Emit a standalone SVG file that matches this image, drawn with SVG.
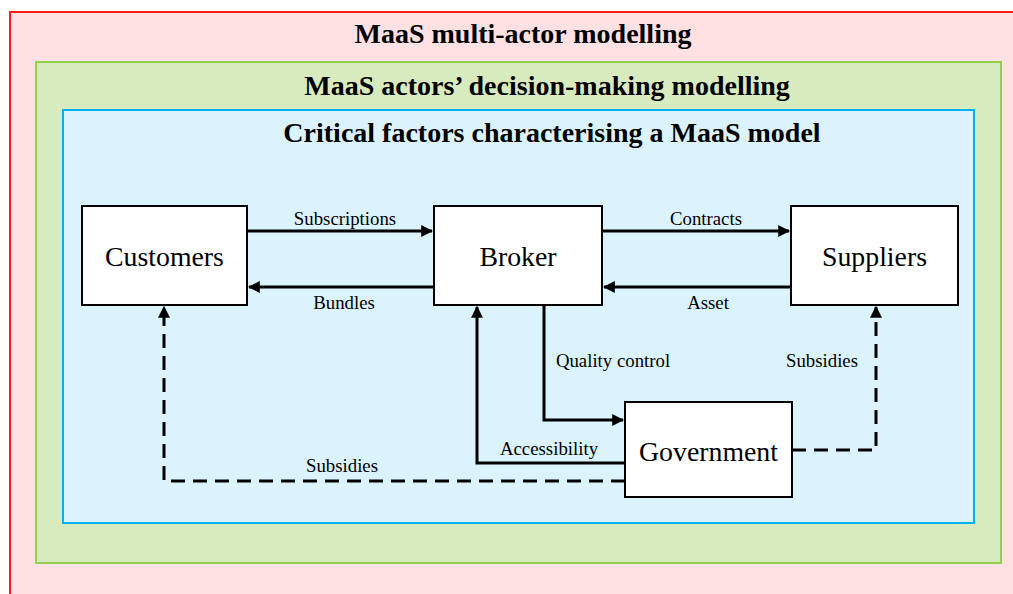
<svg xmlns="http://www.w3.org/2000/svg" width="1013" height="594" viewBox="0 0 1013 594">
<style>
text{font-family:"Liberation Serif","Times New Roman",serif;fill:#000}
.title{font-size:28px;font-weight:bold;text-anchor:middle}
.node rect{fill:#fff;stroke:#000;stroke-width:2}
.node text{font-size:27.8px;text-anchor:middle}
.lbl{font-size:18.8px;text-anchor:middle}
.edge{fill:none;stroke:#000;stroke-width:3}
.dash{stroke-dasharray:14,8}
</style>
<defs>
<marker id="ah" viewBox="0 0 10 10" refX="9" refY="5" markerWidth="4" markerHeight="4" orient="auto" markerUnits="strokeWidth">
<path d="M0,0 L10,5 L0,10 z" fill="#000"/>
</marker>
</defs>
<rect x="0" y="0" width="1013" height="594" fill="#fff"/>
<rect x="10" y="12" width="1010" height="600" fill="#ffe1e3" stroke="#ff1a1a" stroke-width="2"/>
<text class="title" x="523" y="43">MaaS multi-actor modelling</text>
<rect x="36" y="62" width="965" height="501" fill="#d8ebbf" stroke="#92d050" stroke-width="2"/>
<text class="title" x="547" y="95">MaaS actors’ decision-making modelling</text>
<rect x="63" y="110" width="911" height="413" fill="#dbf3fd" stroke="#00b0f0" stroke-width="2"/>
<text class="title" x="552" y="142">Critical factors characterising a MaaS model</text>

<g id="connectors">
<path class="edge" d="M247,231 H432" marker-end="url(#ah)"/>
<path class="edge" d="M434,287 H249" marker-end="url(#ah)"/>
<path class="edge" d="M602,231 H789" marker-end="url(#ah)"/>
<path class="edge" d="M791,287 H604" marker-end="url(#ah)"/>
<path class="edge" d="M544,305 V420 H623" marker-end="url(#ah)"/>
<path class="edge" d="M625,463 H477 V307" marker-end="url(#ah)"/>
<path class="edge dash" d="M625,481 H164 V307" marker-end="url(#ah)"/>
<path class="edge dash" d="M792,450 H876 V307" marker-end="url(#ah)"/>
<text class="lbl" x="345" y="225">Subscriptions</text>
<text class="lbl" x="344" y="309">Bundles</text>
<text class="lbl" x="706" y="225">Contracts</text>
<text class="lbl" x="708" y="309">Asset</text>
<text class="lbl" x="613" y="367">Quality control</text>
<text class="lbl" x="822" y="367">Subsidies</text>
<text class="lbl" x="549" y="455">Accessibility</text>
<text class="lbl" x="342" y="472">Subsidies</text>
</g>

<g id="customers" class="node"><rect x="82" y="206" width="165" height="99"/><text x="164.5" y="266">Customers</text></g>
<g id="broker" class="node"><rect x="434" y="206" width="168" height="99"/><text x="518" y="266">Broker</text></g>
<g id="suppliers" class="node"><rect x="791" y="206" width="167" height="99"/><text x="874.5" y="266">Suppliers</text></g>
<g id="government" class="node"><rect x="625" y="402" width="167" height="95"/><text x="708.5" y="461">Government</text></g>
</svg>
